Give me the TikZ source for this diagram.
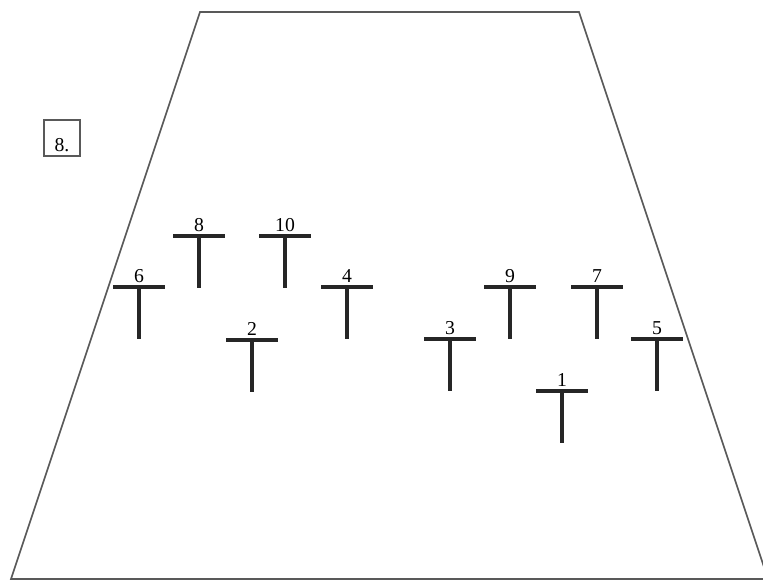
\documentclass[tikz,border=0pt]{standalone}
\usepackage{fontspec}
\setmainfont{Liberation Serif}
\tikzset{tbar/.style={line width=2.6pt,black!85},
  field/.style={line width=1.2pt,black!65}}
\begin{document}
\begin{tikzpicture}[x=0.025cm,y=-0.025cm]
\useasboundingbox(0,0)rectangle(763,580);
\draw[field](200,12)--(579,12)--(768,579)--(11,579)--cycle;
\draw[field](44,120)rectangle(80,156);
\node[font=\fontsize{14}{16}\selectfont] (tag) at(62,145){8.};
\foreach \x/\y/\n in {199/236/8,285/236/10,139/287/6,347/287/4,252/340/2,
  510/287/9,597/287/7,450/339/3,657/339/5,562/391/1}{
  \draw[tbar](\x-26,\y)--(\x+26,\y);\draw[tbar](\x,\y)--(\x,\y+52);
  \node[above,inner sep=2.2pt,font=\fontsize{14}{16}\selectfont] (p\n) at(\x,\y-1){\n};}
\end{tikzpicture}
\end{document}
